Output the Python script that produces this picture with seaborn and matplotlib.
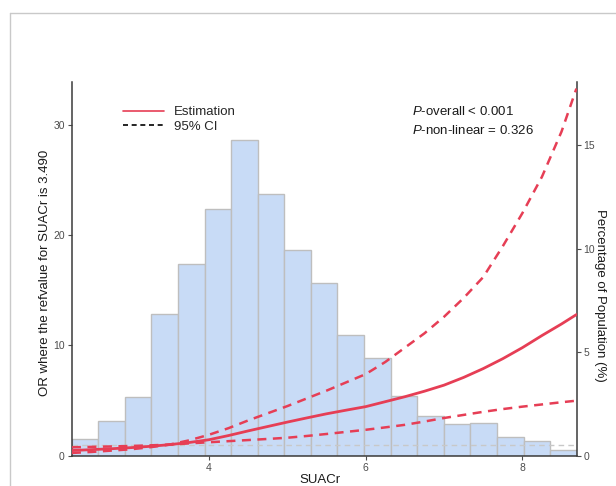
import matplotlib
matplotlib.use("Agg")
import matplotlib.pyplot as plt
from matplotlib.lines import Line2D
import numpy as np
import pandas as pd
import seaborn as sns

# ---------------- data ----------------
# histogram: percentage of population per SUACr bin (19 equal bins)
bin_start = 2.247
bin_width = 0.3393
hist_pct = [0.81, 1.69, 2.82, 6.82, 9.23, 11.92, 15.25, 12.64, 9.93, 8.34,
            5.85, 4.74, 2.90, 1.92, 1.53, 1.60, 0.89, 0.71, 0.29]

# restricted cubic spline estimate (OR) and 95% CI
curve_x  = [2.25, 2.5, 2.75, 3.0, 3.25, 3.49, 3.75, 4.0, 4.25, 4.5, 4.75, 5.0, 5.25,
            5.5, 5.75, 6.0, 6.25, 6.5, 6.75, 7.0, 7.25, 7.5, 7.75, 8.0, 8.25, 8.5, 8.69]
or_est   = [0.47, 0.55, 0.63, 0.73, 0.85, 1.0, 1.2, 1.45, 1.83, 2.25, 2.65, 3.05, 3.43,
            3.8, 4.13, 4.45, 4.9, 5.35, 5.85, 6.4, 7.1, 7.9, 8.8, 9.8, 10.9, 11.95, 12.8]
or_upper = [0.76, 0.80, 0.84, 0.88, 0.94, 1.0, 1.4, 1.9, 2.5, 3.2, 3.85, 4.5, 5.2,
            5.9, 6.65, 7.4, 8.5, 9.8, 11.1, 12.6, 14.3, 16.2, 19.0, 22.0, 25.3, 29.4, 33.3]
or_lower = [0.25, 0.34, 0.46, 0.58, 0.77, 1.0, 1.12, 1.22, 1.32, 1.42, 1.52, 1.63, 1.79,
            1.97, 2.16, 2.35, 2.57, 2.8, 3.1, 3.42, 3.7, 3.98, 4.23, 4.45, 4.65, 4.85, 4.99]

ref_value = 1.0
x_ticks = [4, 6, 8]
left_ticks = [0, 10, 20, 30]
right_ticks = [0, 5, 10, 15]
p_texts = [r"$\mathit{P}$-overall < 0.001", r"$\mathit{P}$-non-linear = 0.326"]

# ---------------- style ----------------
sns.set_style("ticks")
plt.rcParams["font.family"] = ["Liberation Sans", "DejaVu Sans"]
plt.rcParams["mathtext.fontset"] = "custom"
plt.rcParams["mathtext.rm"] = "Liberation Sans"
plt.rcParams["mathtext.it"] = "Liberation Sans:italic"

RED = "#E63E55"
BAR = "#C8DBF6"
BAR_EDGE = "#BEBEBE"
TICK_C = "#4D4D4D"
SPINE_C = "#3A3A3A"

W, H = 616, 486
fig = plt.figure(figsize=(W / 100, H / 100), dpi=100)
fig.patch.set_facecolor("white")

# screenshot frame lines
fig.add_artist(Line2D([9.5 / W, 9.5 / W], [0, 1 - 13 / H], color="#C9C9C9", lw=1.0))
fig.add_artist(Line2D([9.5 / W, 1], [1 - 13 / H, 1 - 13 / H], color="#C9C9C9", lw=1.0))

x0, x1 = 71.7, 576.7
y0, y1 = 82.0, 455.7
ax = fig.add_axes([x0 / W, 1 - y1 / H, (x1 - x0) / W, (y1 - y0) / H])
ax2 = ax.twinx()

xlim = (bin_start, bin_start + bin_width * len(hist_pct))

# histogram on right axis
edges = bin_start + bin_width * np.arange(len(hist_pct) + 1)
centers = (edges[:-1] + edges[1:]) / 2
hdf = pd.DataFrame({"x": centers, "pct": hist_pct})
sns.histplot(data=hdf, x="x", weights="pct", bins=len(hist_pct), binrange=xlim, ax=ax2,
             color=BAR, edgecolor=BAR_EDGE, linewidth=1.0, alpha=1.0)
ax2.set_ylim(0, 18.04)
ax2.set_ylabel("")
ax2.set_yticks(right_ticks)

# curves on left axis, above the histogram
ax.set_zorder(ax2.get_zorder() + 1)
ax.patch.set_visible(False)
ax.axhline(ref_value, color="#C8C8C8", lw=1.0, ls=(0, (4, 3)), zorder=1)
cdf = pd.DataFrame({"x": curve_x, "est": or_est, "lo": or_lower, "hi": or_upper})
sns.lineplot(data=cdf, x="x", y="est", ax=ax, color=RED, lw=2.0, zorder=3)
sns.lineplot(data=cdf, x="x", y="hi", ax=ax, color=RED, lw=1.8, linestyle=(0, (3.6, 2.6)), zorder=3)
sns.lineplot(data=cdf, x="x", y="lo", ax=ax, color=RED, lw=1.8, linestyle=(0, (3.6, 2.6)), zorder=3)
ax.set_xlim(*xlim)
ax.set_ylim(0, 33.9)
ax.set_yticks(left_ticks)
ax.set_xticks(x_ticks)

# spines & ticks
for a in (ax, ax2):
    a.spines["top"].set_visible(False)
    for s in ("left", "right", "bottom"):
        a.spines[s].set_color(SPINE_C)
        a.spines[s].set_linewidth(1.1)
ax.spines["right"].set_visible(False)
ax2.spines["left"].set_visible(False)
ax2.spines["bottom"].set_visible(False)
ax.tick_params(axis="both", length=3, width=0.8, color=TICK_C, labelcolor=TICK_C,
               labelsize=7.5, pad=2)
ax2.tick_params(axis="y", length=3, width=0.8, color=TICK_C, labelcolor=TICK_C,
                labelsize=7.5, pad=2)

ax.set_xlabel("SUACr", fontsize=9.5, color="#1A1A1A")
ax.xaxis.set_label_coords((319.6 - x0) / (x1 - x0), (y1 - 480) / (y1 - y0))
ax.xaxis.label.set_va("center")
ax.set_ylabel("OR where the refvalue for SUACr is 3.490", fontsize=9.5, color="#1A1A1A")
ax.yaxis.set_label_coords((45 - x0) / (x1 - x0), (y1 - 273) / (y1 - y0))
ax.yaxis.label.set_va("center")
fig.text(600 / W, 1 - 295 / H, "Percentage of Population (%)", rotation=270,
         ha="center", va="center", fontsize=9.5, color="#1A1A1A")

# legend
handles = [Line2D([], [], color=RED, lw=1.2),
           Line2D([], [], color="black", lw=1.2, ls=(0, (3, 2.2)))]
leg = ax.legend(handles, ["Estimation", "95% CI"], loc="upper left",
                bbox_to_anchor=(123 / W, 1 - 106 / H), bbox_transform=fig.transFigure,
                frameon=False, fontsize=9.5, handlelength=3.1, handletextpad=0.75,
                labelspacing=0.2, borderpad=0, borderaxespad=0)

# p-values
fig.text(411.7 / W, 1 - 111.5 / H, p_texts[0], ha="left", va="center", fontsize=9.5, color="#1A1A1A")
fig.text(411.7 / W, 1 - 130 / H, p_texts[1], ha="left", va="center", fontsize=9.5, color="#1A1A1A")

fig.savefig("out.png", dpi=100, facecolor="white")
